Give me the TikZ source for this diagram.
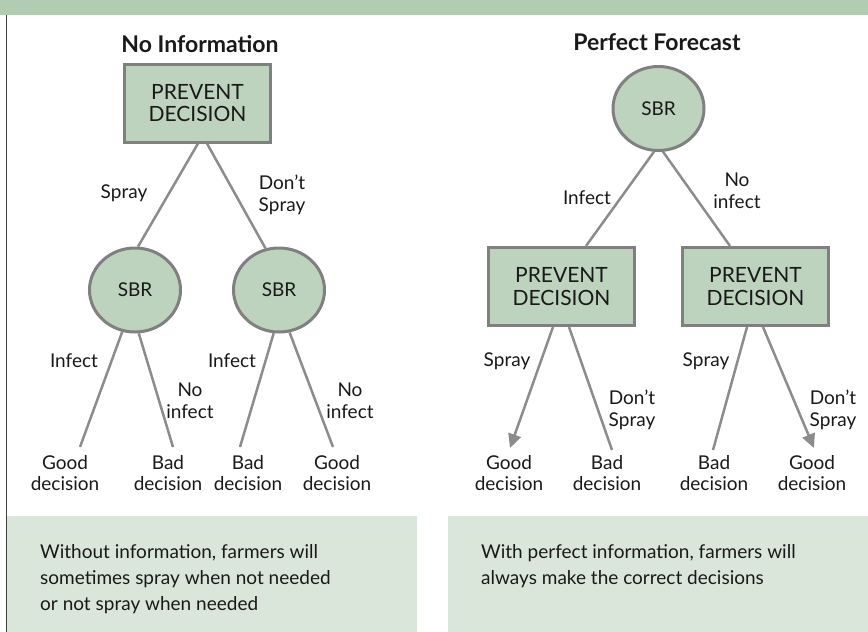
\documentclass[tikz,border=0pt]{standalone}
\usepackage{fontspec}
\setmainfont{Lato}
\usetikzlibrary{arrows.meta,shapes.geometric}
\definecolor{hdr}{RGB}{178,204,179}
\definecolor{nodefill}{RGB}{189,211,190}
\definecolor{nodeline}{RGB}{128,128,128}
\definecolor{edgecol}{RGB}{140,140,140}
\definecolor{panel}{RGB}{219,230,219}
\definecolor{txt}{RGB}{25,25,25}
\definecolor{frame}{RGB}{64,64,64}
\begin{document}
\begin{tikzpicture}[x=1pt,y=-1pt,
  every node/.style={font=\fontsize{19}{21.5}\selectfont, text=txt},
  decbox/.style={draw=nodeline, fill=nodefill, line width=3pt, minimum width=146pt, minimum height=78pt, align=center, inner sep=0pt, font=\fontsize{21}{22.5}\selectfont},
  chance/.style={ellipse, draw=nodeline, fill=nodefill, line width=3pt, minimum width=91pt, minimum height=84pt, inner sep=0pt},
  edge/.style={draw=edgecol, line width=2.5pt},
  arr/.style={edge, -{Triangle[length=14pt,width=13pt]}},
  lbl/.style={align=center, inner sep=0pt, anchor=north},
  leaf/.style={align=center, inner sep=0pt, anchor=north},
  title/.style={font=\fontsize{23}{25}\selectfont\bfseries},
  note/.style={align=left, anchor=north west, inner sep=0pt, font=\fontsize{19}{26}\selectfont}
]
\useasboundingbox (0,0) rectangle (868,632);
% background
\fill[hdr] (0,0) rectangle (868,15);
\fill[panel] (7,516) rectangle (417,632);
\fill[panel] (448,516) rectangle (868,632);
\draw[line width=1.5pt, draw=frame] (6.5,15) -- (6.5,632);

% notes
\node[note] (n1) at (40,544) {Without information, farmers will\\sometimes spray when not needed\\or not spray when needed};
\node[note] (n2) at (481,544) {With perfect information, farmers will\\always make the correct decisions};

% titles
\node[title] (t1) at (200,44) {No Information};
\node[title] (t2) at (657,42) {Perfect Forecast};

% left tree
\node[decbox] (pd1) at (197.5,103) {PREVENT\\DECISION};
\node[chance] (sbr1) at (135,290) {SBR};
\node[chance] (sbr2) at (279,290) {SBR};
\node[leaf] (l1) at (65,455) {Good\\decision};
\node[leaf] (l2) at (168,455) {Bad\\decision};
\node[leaf] (l3) at (248,455) {Bad\\decision};
\node[leaf] (l4) at (337,455) {Good\\decision};

\draw[edge] ([xshift=0.5pt]pd1.south) -- (sbr1.86);
\draw[edge] ([xshift=9.5pt]pd1.south) -- (sbr2.108);
\draw[edge] (sbr1.253) -- ([xshift=15pt,yshift=8pt]l1.north);
\draw[edge] (sbr1.275) -- ([xshift=5pt,yshift=8pt]l2.north);
\draw[edge] (sbr2.263) -- ([xshift=-8pt,yshift=8pt]l3.north);
\draw[edge] (sbr2.284) -- ([xshift=-4pt,yshift=8pt]l4.north);

\node[lbl] (a1) at (124,185) {Spray};
\node[lbl] (a2) at (282,175) {Don’t\\Spray};
\node[lbl] (a3) at (74,353) {Infect};
\node[lbl] (a4) at (190,383) {No\\infect};
\node[lbl] (a5) at (232,353) {Infect};
\node[lbl] (a6) at (350,383) {No\\infect};

% right tree
\node[chance] (sbr3) at (658.5,108.5) {SBR};
\node[decbox] (pd2) at (561.5,286.5) {PREVENT\\DECISION};
\node[decbox] (pd3) at (755.5,286.5) {PREVENT\\DECISION};
\node[leaf] (r1) at (509,455) {Good\\decision};
\node[leaf] (r2) at (607,455) {Bad\\decision};
\node[leaf] (r3) at (714,455) {Bad\\decision};
\node[leaf] (r4) at (812,455) {Good\\decision};

\draw[edge] (sbr3.264) -- ([xshift=24.5pt]pd2.north);
\draw[edge] (sbr3.276) -- ([xshift=-25.5pt]pd3.north);
\draw[arr] ([xshift=-8.5pt]pd2.south) -- ([xshift=1pt,yshift=7pt]r1.north);
\draw[edge] ([xshift=7.5pt]pd2.south) -- ([xshift=5pt,yshift=5pt]r2.north);
\draw[edge] ([xshift=-8.5pt]pd3.south) -- ([xshift=-1pt,yshift=5pt]r3.north);
\draw[arr] ([xshift=7.5pt]pd3.south) -- ([xshift=2pt,yshift=7pt]r4.north);

\node[lbl] (b1) at (587,190) {Infect};
\node[lbl] (b2) at (737,173) {No\\infect};
\node[lbl] (b3) at (507,353) {Spray};
\node[lbl] (b4) at (632,390) {Don’t\\Spray};
\node[lbl] (b5) at (706,353) {Spray};
\node[lbl] (b6) at (833,390) {Don’t\\Spray};
\end{tikzpicture}
\end{document}
